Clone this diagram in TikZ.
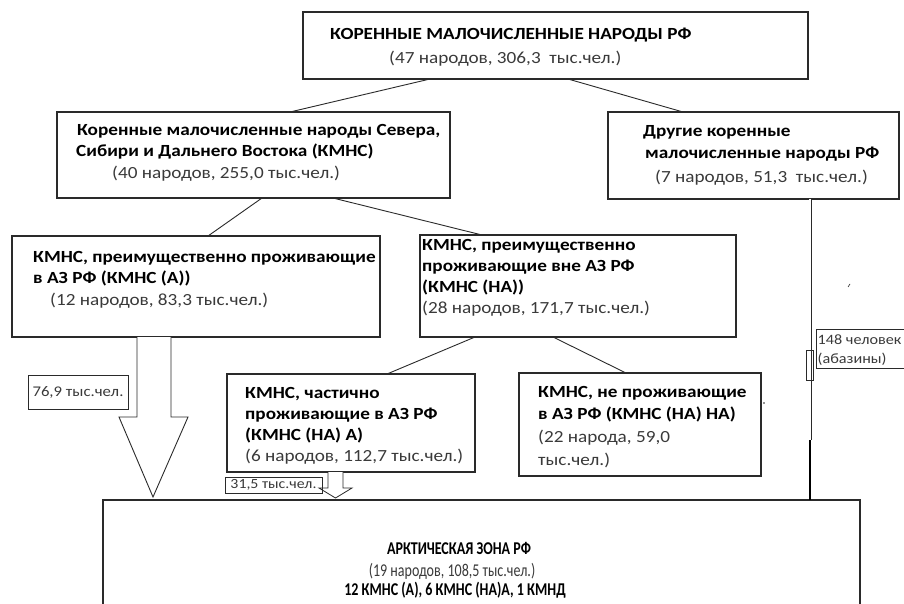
\documentclass[tikz,border=0pt]{standalone}
\usepackage{fontspec}
\setmainfont{Carlito}[FakeStretch=1.13]
\newfontfamily\narrowfont[FakeStretch=0.78]{Carlito}
\definecolor{txt}{HTML}{3A3A3A}
\definecolor{edge}{HTML}{2A2A2A}
\begin{document}
\begin{tikzpicture}[x=1pt,y=-1pt,
  box/.style={draw=edge,line width=1.1pt,inner sep=0pt,outer sep=0pt,anchor=north west},
  conn/.style={draw=edge,line width=0.9pt},
  bt/.style={anchor=base west,inner sep=0pt,font=\fontsize{17}{20}\selectfont\bfseries,text=black},
  nt/.style={anchor=base west,inner sep=0pt,font=\fontsize{17}{20}\selectfont,text=txt},
  lab/.style={draw=edge,line width=0.7pt,anchor=north west,inner sep=0pt,outer sep=0pt,text=txt},
  arc/.style={anchor=base,inner sep=0pt,font=\fontsize{18}{20}\selectfont\narrowfont}
]
\useasboundingbox (0,0) rectangle (904,603);
\clip (0,0) rectangle (904,603);
\fill[white] (0,0) rectangle (904,603);

% boxes
\node[box,minimum width=505pt,minimum height=67pt] (top) at (303,12) {};
\node[box,minimum width=393pt,minimum height=86pt] (kmns) at (57,112) {};
\node[box,minimum width=291pt,minimum height=87pt] (other) at (608,112) {};
\node[box,minimum width=368pt,minimum height=101pt] (kmnsA) at (12,236) {};
\node[box,minimum width=316pt,minimum height=102pt] (kmnsNA) at (420,235) {};
\node[box,minimum width=248pt,minimum height=98pt] (part) at (227,374) {};
\node[box,minimum width=242pt,minimum height=103pt] (non) at (519,373) {};
\node[box,minimum width=757pt,minimum height=140pt] (arctic) at (103,500) {};

% texts
\node[bt] (t1a) at (330,39) {КОРЕННЫЕ МАЛОЧИСЛЕННЫЕ НАРОДЫ РФ};
\node[nt] (t1b) at (389,63) {(47 народов, 306,3\ \ тыс.чел.)};

\node[bt] (t2a) at (77,135) {Коренные малочисленные народы Севера,};
\node[bt] (t2b) at (76,156) {Сибири и Дальнего Востока (КМНС)};
\node[nt] (t2c) at (112,178) {(40 народов, 255,0 тыс.чел.)};

\node[bt] (t3a) at (643,136) {Другие коренные};
\node[bt] (t3b) at (645,158) {малочисленные народы РФ};
\node[nt] (t3c) at (655,182) {(7 народов, 51,3\ \ тыс.чел.)};

\node[bt] (t4a) at (33,262) {КМНС, преимущественно проживающие};
\node[bt] (t4b) at (33,283) {в АЗ РФ (КМНС (А))};
\node[nt] (t4c) at (50,305) {(12 народов, 83,3 тыс.чел.)};

\node[bt] (t5a) at (422,250) {КМНС, преимущественно};
\node[bt] (t5b) at (422,271) {проживающие вне АЗ РФ};
\node[bt] (t5c) at (422,292) {(КМНС (НА))};
\node[nt] (t5d) at (422,313) {(28 народов, 171,7 тыс.чел.)};

\node[bt] (t6a) at (245,398) {КМНС, частично};
\node[bt] (t6b) at (245,419) {проживающие в АЗ РФ};
\node[bt] (t6c) at (245,440) {(КМНС (НА) А)};
\node[nt] (t6d) at (245,461) {(6 народов, 112,7 тыс.чел.)};

\node[bt] (t7a) at (538,397) {КМНС, не проживающие};
\node[bt] (t7b) at (538,419) {в АЗ РФ (КМНС (НА) НА)};
\node[nt] (t7c) at (538,442) {(22 народа, 59,0};
\node[nt] (t7d) at (538,465) {тыс.чел.)};

\node[arc,font=\fontsize{18}{20}\selectfont\narrowfont\bfseries] (t8a) at (459,554) {АРКТИЧЕСКАЯ ЗОНА РФ};
\node[arc,text=txt] (t8b) at (452,576) {(19 народов, 108,5 тыс.чел.)};
\node[arc,font=\fontsize{18}{20}\selectfont\narrowfont\bfseries] (t8c) at (455,595) {12 КМНС (А), 6 КМНС (НА)А, 1 КМНД};

% connectors
\draw[conn] (430,0 |- top.south) -- (290,0 |- kmns.north);
\draw[conn] (568,0 |- top.south) -- (683,0 |- other.north);
\draw[conn] (262,0 |- kmns.south) -- (208,0 |- kmnsA.north);
\draw[conn] (333,0 |- kmns.south) -- (482,0 |- kmnsNA.north);
\draw[conn] (475,0 |- kmnsNA.south) -- (387,0 |- part.north);
\draw[conn] (553,0 |- kmnsNA.south) -- (626,0 |- non.north);

% hollow arrows
\draw[conn,line join=miter,fill=white] (137,0 |- kmnsA.south) -- (137,417) -- (119,417) -- (153,497) -- (188,417) -- (171,417) -- (171,0 |- kmnsA.south);
\draw[conn,line width=0.8pt,line join=miter,fill=white] (328,0 |- part.south) -- (328,488) -- (319,488) -- (335.5,498) -- (352,488) -- (343,488) -- (343,0 |- part.south);

% labels
\node[lab,minimum width=100pt,minimum height=34pt,font=\fontsize{14.8}{17}\selectfont] (l769) at (28,375) {76,9 тыс.чел.};
\node[lab,minimum width=97pt,minimum height=16pt,font=\fontsize{14}{15}\selectfont] (l315) at (225,477) {31,5 тыс.чел.};
\node[lab,minimum width=90pt,minimum height=39pt] (l148) at (816,329) {};
\node[nt,font=\fontsize{14.3}{17}\selectfont] (t148a) at (817.5,344) {148 человек};
\node[nt,font=\fontsize{14.3}{17}\selectfont] (t148b) at (817.5,363) {(абазины)};

% double line from "other" to arctic zone
\coordinate (dl) at (810,440);
\draw[draw=edge,line width=0.7pt,double=white,double distance=1.6pt] (810,0 |- other.south) -- (dl);
\draw[draw=edge,line width=0.7pt] (806.5,350) rectangle (813.5,380);
\draw[draw=black,line width=1.3pt] (dl) -- (810,0 |- arctic.north);

% small artifacts
\fill[edge] (764,403) circle (0.9pt);
\draw[edge,line width=0.6pt] (848,287) -- (850,284);
\end{tikzpicture}
\end{document}
